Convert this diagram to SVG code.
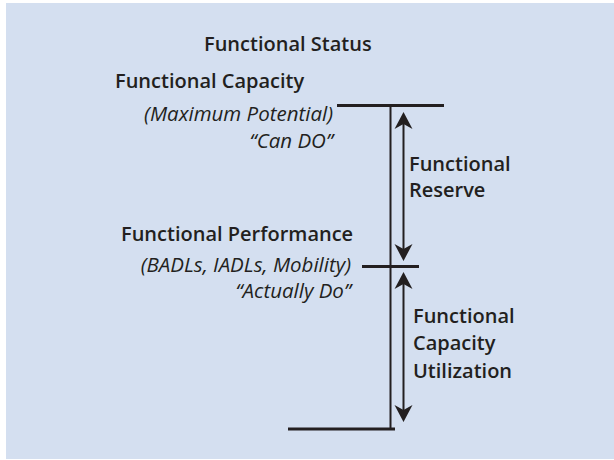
<svg xmlns="http://www.w3.org/2000/svg" width="614" height="460" viewBox="0 0 614 460">
<defs>
<style>
.h{font-family:"Open Sans","Liberation Sans",sans-serif;font-weight:600;font-size:20px;fill:#231f20}
.it{font-family:"Open Sans","Liberation Sans",sans-serif;font-style:italic;font-size:20.5px;fill:#231f20;text-anchor:end}
.bar{stroke:#231f20;stroke-width:3;fill:none}
.thin{stroke:#231f20;stroke-width:2;fill:none}
</style>
<marker id="ah" viewBox="-18 -10 19 20" refX="-6" refY="0" markerWidth="19" markerHeight="20" markerUnits="userSpaceOnUse" orient="auto-start-reverse">
<path d="M0,0 L-17,-9 L-12,0 L-17,9 Z" fill="#231f20"/>
</marker>
</defs>
<rect x="6" y="3" width="608" height="456" fill="#d4dff0"/>
<g id="title"><text class="h" x="204" y="51">Functional Status</text></g>
<g id="capacity">
<text class="h" x="115" y="88">Functional Capacity</text>
<text class="it" x="333" y="121">(Maximum Potential)</text>
<text class="it" x="333" y="148">“Can DO”</text>
</g>
<g id="performance">
<text class="h" x="121" y="241">Functional Performance</text>
<text class="it" x="351" y="272">(BADLs, IADLs, Mobility)</text>
<text class="it" x="351" y="298">“Actually Do”</text>
</g>
<g id="reserve">
<text class="h" x="409" y="171">Functional</text>
<text class="h" x="409" y="197">Reserve</text>
</g>
<g id="utilization">
<text class="h" x="413" y="323">Functional</text>
<text class="h" x="413" y="350">Capacity</text>
<text class="h" x="413" y="378">Utilization</text>
</g>
<g id="connectors">
<line class="bar" x1="337" y1="105.5" x2="444" y2="105.5"/>
<line class="bar" x1="362" y1="266.5" x2="419" y2="266.5"/>
<line class="bar" x1="288" y1="429" x2="395" y2="429"/>
<line class="thin" x1="390.5" y1="105" x2="390.5" y2="430"/>
<line class="thin" x1="403.5" y1="118" x2="403.5" y2="255" marker-start="url(#ah)" marker-end="url(#ah)"/>
<line class="thin" x1="403.5" y1="278" x2="403.5" y2="416" marker-start="url(#ah)" marker-end="url(#ah)"/>
</g>
</svg>
